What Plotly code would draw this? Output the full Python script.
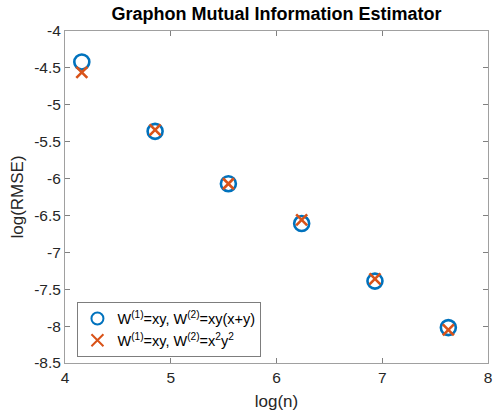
import numpy as np
import plotly.graph_objects as go

log_n = [4.159, 4.852, 5.545, 6.238, 6.931, 7.625]
rmse_xy_xplusy = [-4.42, -5.36, -6.07, -6.61, -7.39, -8.02]
rmse_x2y2 = [-4.56, -5.34, -6.07, -6.56, -7.36, -8.05]
name1 = "W<sup>(1)</sup>=xy, W<sup>(2)</sup>=xy(x+y)"
name2 = "W<sup>(1)</sup>=xy, W<sup>(2)</sup>=x<sup>2</sup>y<sup>2</sup>"
xticks = [4, 5, 6, 7, 8]
yticks = [-4, -4.5, -5, -5.5, -6, -6.5, -7, -7.5, -8, -8.5]
ytick_text = ["-4", "-4.5", "-5", "-5.5", "-6", "-6.5", "-7", "-7.5", "-8", "-8.5"]

FONT = "Liberation Sans, Arial, Helvetica, sans-serif"

fig = go.Figure()
fig.add_trace(go.Scatter(
    x=log_n, y=rmse_xy_xplusy, mode="markers", name=name1,
    marker=dict(symbol="circle-open", size=15, color="#0072BD",
                line=dict(width=2.6, color="#0072BD")),
))
fig.add_trace(go.Scatter(
    x=log_n, y=rmse_x2y2, mode="markers", name=name2,
    marker=dict(symbol="x-thin-open", size=11, color="#D95319",
                line=dict(width=2.6, color="#D95319")),
))

axis_common = dict(
    showgrid=False, zeroline=False, showline=True, mirror="ticks",
    linecolor="#A0A0A0", linewidth=1, ticks="inside", ticklen=5,
    tickcolor="#808080", tickfont=dict(family=FONT, size=15.5, color="#262626"),
    ticklabeloverflow="allow",
)

fig.update_layout(
    width=496, height=417,
    margin=dict(l=65, r=4, t=31, b=54),
    paper_bgcolor="white", plot_bgcolor="white",
    title=dict(text="<b>Graphon Mutual Information Estimator</b>",
               xref="paper", x=0.5, xanchor="center",
               y=0.968, yanchor="middle",
               font=dict(family=FONT, size=18, color="black")),
    xaxis=dict(range=[4, 8], tickvals=xticks,
               title=dict(text="log(n)", standoff=10,
                          font=dict(family=FONT, size=17, color="#262626")),
               **axis_common),
    yaxis=dict(range=[-8.5, -4], tickvals=yticks, ticktext=ytick_text,
               title=dict(text="log(RMSE)", standoff=6,
                          font=dict(family=FONT, size=17, color="#262626")),
               **axis_common),
    legend=dict(x=0.028, y=0.184, xanchor="left", yanchor="top",
                bgcolor="white", bordercolor="#262626", borderwidth=0.6,
                font=dict(family=FONT, size=14.5, color="black"),
                itemsizing="constant", tracegroupgap=0),
    showlegend=True,
)

fig.write_html("out.html")
